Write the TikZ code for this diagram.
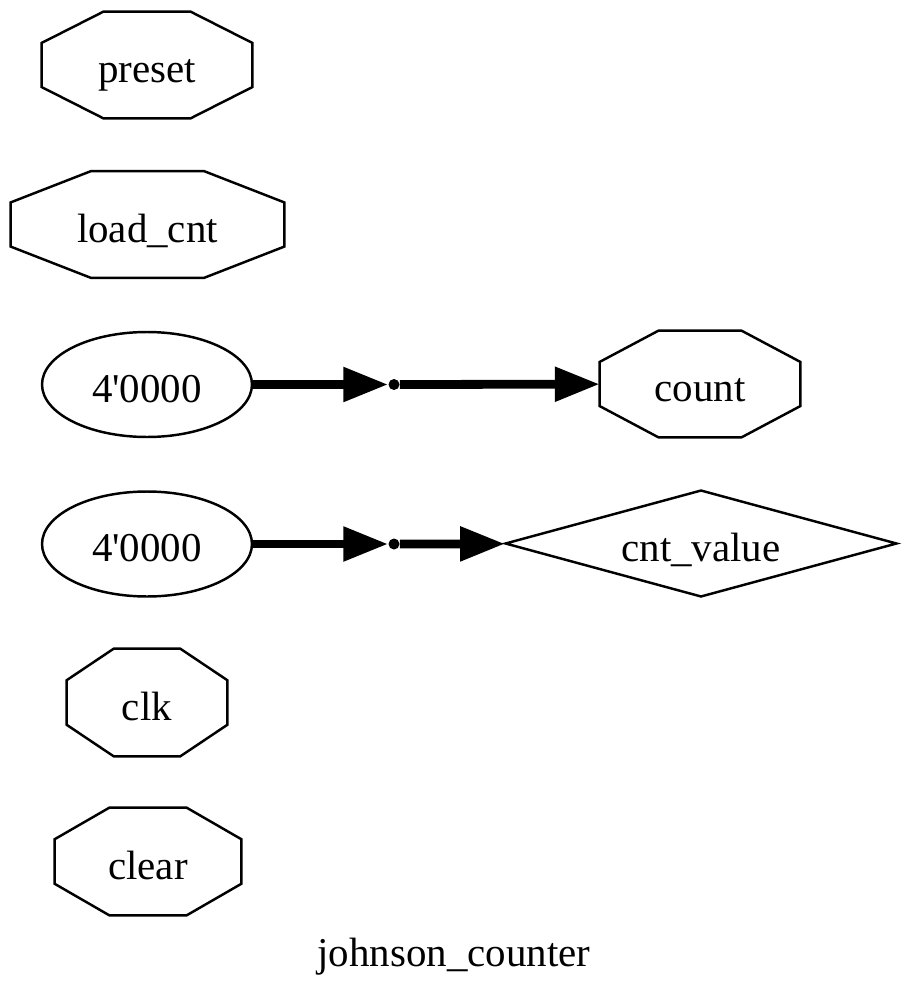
\documentclass[tikz,border=0pt]{standalone}
\usepackage{fontspec}
\setmainfont{Liberation Serif}
\usetikzlibrary{shapes.geometric,arrows.meta,calc}

\tikzset{
  label text/.style={text height=20.4pt,text depth=0pt},
  port/.style={rectangle,label text,inner sep=0pt,minimum height=2.12cm},
  const/.style={ellipse,draw,label text,line width=1.4pt,minimum width=4.2cm,minimum height=2.1cm,inner sep=0pt},
  outwire/.style={diamond,draw,label text,aspect=3.66,line width=1.4pt,minimum width=7.84cm,minimum height=2.14cm,inner sep=0pt},
  joint/.style={circle,fill,inner sep=0pt,minimum size=0.22cm},
  bus/.style={line width=5pt,-{Triangle[length=25.5pt,width=18.7pt]}},
}

% octagon round a rectangle node, corners as graphviz draws them
\newcommand{\octagonport}[1]{%
  \draw[line width=1.4pt] ($(#1.west)!0.414!(#1.north west)$) -- ($(#1.north)!0.414!(#1.north west)$)
    -- ($(#1.north)!0.414!(#1.north east)$) -- ($(#1.east)!0.414!(#1.north east)$)
    -- ($(#1.east)!0.414!(#1.south east)$) -- ($(#1.south)!0.414!(#1.south east)$)
    -- ($(#1.south)!0.414!(#1.south west)$) -- ($(#1.west)!0.414!(#1.south west)$) -- cycle;}

\begin{document}
\begin{tikzpicture}[x=0.02cm,y=-0.02cm,font=\fontsize{23.3}{28}\selectfont]
	\useasboundingbox (0,0) rectangle (909,1000);

	\node[port,minimum width=4.2cm] (preset) at (147,65) {preset};
	\node[port,minimum width=5.46cm] (loadcnt) at (147.5,224.5) {load\_cnt};
	\node[port,minimum width=4.0cm] (count) at (700,384) {count};
	\node[port,minimum width=3.2cm,minimum height=2.14cm] (clk) at (147,702.5) {clk};
	\node[port,minimum width=3.72cm,minimum height=2.14cm] (clear) at (148,861.5) {clear};
	\foreach \n in {preset,loadcnt,count,clk,clear}
		\octagonport{\n};

	%-------------------------------------
	\node[const] (zeroa) at (147,384.5) {4\textquotesingle 0000};
	\node[joint] (pa) at (394,384.5) {};
	\draw[bus] (zeroa) -- (pa);
	\draw[bus] (pa) -- (count);

	%-------------------------------------
	\node[const] (zerob) at (147,544) {4\textquotesingle 0000};
	\node[joint] (pb) at (394,544) {};
	\node[outwire] (cntvalue) at (701,543.5) {cnt\_value};
	\draw[bus] (zerob) -- (pb);
	\draw[bus] (pb) -- (cntvalue);

	\node[label text] (title) at (454,949) {johnson\_counter};
\end{tikzpicture}
\end{document}
